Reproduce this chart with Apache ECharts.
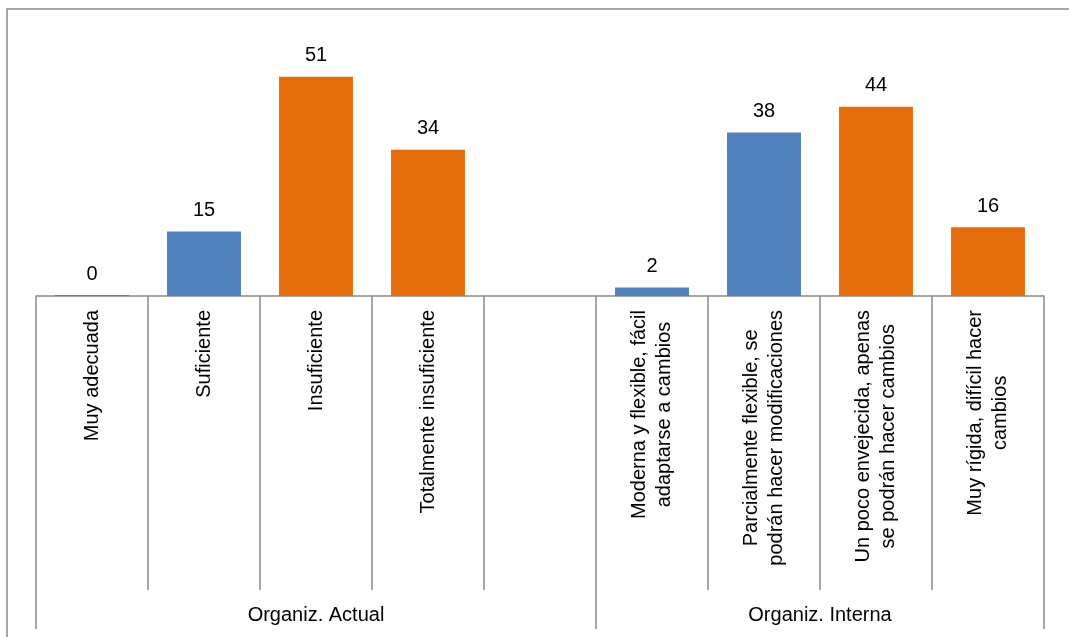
<!DOCTYPE html>
<html>
<head>
<meta charset="utf-8">
<script src="https://cdn.jsdelivr.net/npm/echarts@6/dist/echarts.min.js"></script>
<style>
  html, body { margin: 0; padding: 0; background: #ffffff; }
  #chart { width: 1069px; height: 637px; }
</style>
</head>
<body>
<div id="chart"></div>
<script>
// Survey answers, grouped by the question they belong to
const categories = [
  'Muy adecuada',
  'Suficiente',
  'Insuficiente',
  'Totalmente insuficiente',
  '',
  'Moderna y flexible, fácil\nadaptarse a cambios',
  'Parcialmente flexible, se\npodrán hacer modificaciones',
  'Un poco envejecida, apenas\nse podrán hacer cambios',
  'Muy rígida, difícil hacer\ncambios'
];
const values = [0, 15, 51, 34, null, 2, 38, 44, 16];
// favourable (pos) or unfavourable (neg) answer
const assessment = ['pos', 'pos', 'neg', 'neg', null, 'pos', 'pos', 'neg', 'neg'];
const groupNames = ['Organiz. Actual', 'Organiz. Interna'];
const groupSpans = [5, 4]; // number of categories in each group

const FONT = 'Liberation Sans, Arial, sans-serif';
const LINE = '#8a8a8a';

// group boundaries and centres in category units
const groupEdges = [0];
groupSpans.forEach(s => groupEdges.push(groupEdges[groupEdges.length - 1] + s));
const groupCenters = groupSpans.map((s, i) => groupEdges[i] + s / 2);

function seriesFor(kind) {
  return values.map((v, i) => (v !== null && assessment[i] === kind) ? v : '-');
}

const labelStyle = {
  show: true,
  position: 'top',
  distance: 11,
  color: '#000',
  fontFamily: FONT,
  fontSize: 20
};

const chart = echarts.init(document.getElementById('chart'), null, { renderer: 'canvas' });
chart.setOption({
  animation: false,
  backgroundColor: '#ffffff',
  grid: { left: 36, right: 25, top: 38, bottom: 341, containLabel: false },
  xAxis: [
    {
      type: 'category',
      data: categories,
      axisLine: { show: true, lineStyle: { color: LINE, width: 1.5 } },
      axisTick: { show: true, interval: 0, length: 294, lineStyle: { color: LINE, width: 1.5 } },
      axisLabel: {
        interval: 0,
        rotate: 90,
        margin: 14,
        color: '#000',
        fontFamily: FONT,
        fontSize: 20,
        lineHeight: 25,
        formatter: v => v.split('\n').map(s => '{c|' + s + '}').join('\n'),
        rich: { c: { align: 'center', fontFamily: FONT, fontSize: 20, lineHeight: 25, color: '#000' } }
      },
      splitLine: { show: false }
    },
    {
      type: 'value',
      position: 'bottom',
      offset: 333,
      min: 0,
      max: categories.length,
      axisLine: { show: false },
      axisTick: {
        show: true,
        inside: true,
        length: 333,
        customValues: groupEdges,
        lineStyle: { color: LINE, width: 1.5 }
      },
      axisLabel: {
        show: true,
        inside: true,
        margin: 4,
        customValues: groupCenters,
        formatter: v => {
          const i = groupCenters.indexOf(v);
          return i >= 0 ? groupNames[i] : '';
        },
        color: '#000',
        fontFamily: FONT,
        fontSize: 20
      },
      splitLine: { show: false }
    }
  ],
  yAxis: {
    type: 'value',
    min: 0,
    max: 60,
    show: false,
    splitLine: { show: false }
  },
  series: [
    {
      name: 'pos',
      type: 'bar',
      stack: 'total',
      data: seriesFor('pos'),
      barCategoryGap: '34%',
      barMinHeight: 1,
      itemStyle: { color: '#4f81bd' },
      label: labelStyle
    },
    {
      name: 'neg',
      type: 'bar',
      stack: 'total',
      data: seriesFor('neg'),
      barCategoryGap: '34%',
      itemStyle: { color: '#e46c0a' },
      label: labelStyle
    }
  ],
  graphic: [
    {
      type: 'rect',
      silent: true,
      z: 100,
      shape: { x: 7, y: 9, width: 1200, height: 800 },
      style: { fill: null, stroke: '#8a8a8a', lineWidth: 1.5 }
    }
  ]
});
</script>
</body>
</html>
